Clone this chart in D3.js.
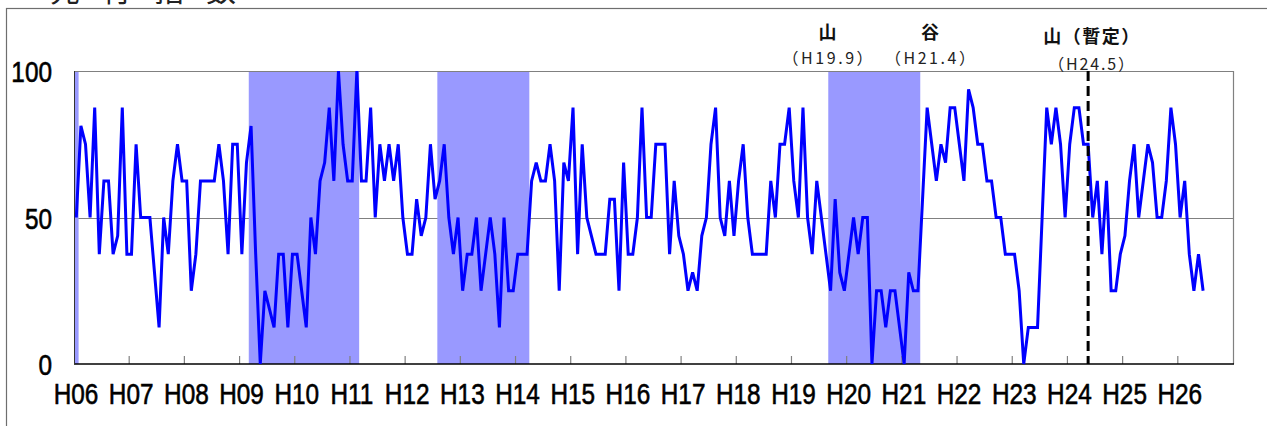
<!DOCTYPE html>
<html>
<head>
<meta charset="utf-8">
<script src="https://cdn.jsdelivr.net/npm/d3@7"></script>
<style>
  body { margin: 0; background: #fff; }
  svg { display: block; }
</style>
</head>
<body>
<script>
// fiscal years shown on the axis (heisei)
const years = ['H06', 'H07', 'H08', 'H09', 'H10', 'H11', 'H12', 'H13', 'H14', 'H15', 'H16',
  'H17', 'H18', 'H19', 'H20', 'H21', 'H22', 'H23', 'H24', 'H25', 'H26'];
const months = [1, 2, 3, 4, 5, 6, 7, 8, 9, 10, 11, 12];

// monthly index values, H06.1 .. H26.6
const diValues = [
  50, 81.25, 75, 50, 87.5, 37.5, 62.5, 62.5, 37.5, 43.75, 87.5, 37.5,
  37.5, 75, 50, 50, 50, 31.25, 12.5, 50, 37.5, 62.5, 75, 62.5,
  62.5, 25, 37.5, 62.5, 62.5, 62.5, 62.5, 75, 62.5, 37.5, 75, 75,
  37.5, 68.75, 81.25, 37.5, 0, 25, 18.75, 12.5, 37.5, 37.5, 12.5, 37.5,
  37.5, 25, 12.5, 50, 37.5, 62.5, 68.75, 87.5, 62.5, 100, 75, 62.5,
  62.5, 100, 62.5, 62.5, 87.5, 50, 75, 62.5, 75, 62.5, 75, 50,
  37.5, 37.5, 56.25, 43.75, 50, 75, 56.25, 62.5, 75, 50, 37.5, 50,
  25, 37.5, 37.5, 50, 25, 37.5, 50, 37.5, 12.5, 50, 25, 25,
  37.5, 37.5, 37.5, 62.5, 68.75, 62.5, 62.5, 75, 62.5, 25, 68.75, 62.5,
  87.5, 37.5, 75, 50, 43.75, 37.5, 37.5, 37.5, 56.25, 56.25, 25, 68.75,
  37.5, 37.5, 50, 87.5, 50, 50, 75, 75, 75, 37.5, 62.5, 43.75,
  37.5, 25, 31.25, 25, 43.75, 50, 75, 87.5, 50, 43.75, 62.5, 43.75,
  62.5, 75, 50, 37.5, 37.5, 37.5, 37.5, 62.5, 50, 75, 75, 87.5,
  62.5, 50, 87.5, 50, 37.5, 62.5, 50, 37.5, 25, 56.25, 31.25, 25,
  37.5, 50, 37.5, 50, 50, 0, 25, 25, 12.5, 25, 25, 12.5,
  0, 31.25, 25, 25, 56.25, 87.5, 75, 62.5, 75, 68.75, 87.5, 87.5,
  75, 62.5, 93.75, 87.5, 75, 75, 62.5, 62.5, 50, 50, 37.5, 37.5,
  37.5, 25, 0, 12.5, 12.5, 12.5, 50, 87.5, 75, 87.5, 75, 50,
  75, 87.5, 87.5, 75, 75, 50, 62.5, 37.5, 62.5, 25, 25, 37.5,
  43.75, 62.5, 75, 50, 62.5, 75, 68.75, 50, 50, 62.5, 87.5, 75,
  50, 62.5, 37.5, 25, 37.5, 25
];

// contraction phases (first month, last month)
const shadePeriods = [['H06.1', 'H06.1'], ['H09.3', 'H11.2'], ['H12.8', 'H14.3'], ['H19.9', 'H21.4']];

const yTicks = [0, 50, 100];
const peakLabel = '山', troughLabel = '谷', provisionalLabel = '山（暫定）';
const peakDate = 'H19.9', troughDate = 'H21.4', provisionalDate = 'H24.5';
const titleText = '先行指数';

const W = 1267, H = 426;
const margin = { top: 71, right: 34, bottom: 62, left: 74 };

const categories = [];
years.forEach(y => months.forEach(m => categories.push(y + '.' + m)));

const svg = d3.select('body').append('svg')
  .attr('width', W)
  .attr('height', H);

const x = d3.scaleBand(categories, [margin.left, W - margin.right]).padding(0);
const y = d3.scaleLinear([0, 100], [H - margin.bottom, margin.top]);
const bw = x.bandwidth();
const cx = c => x(c) + bw / 2;

// no narrow font installed, so squeeze Liberation Sans instead
const numFont = "'Liberation Sans', Arial, sans-serif";
const squeeze = 0.84;
const jpFont = "'Noto Sans CJK JP', 'Noto Sans', sans-serif";

// outer frame
svg.append('rect')
  .attr('x', 6.5).attr('y', 8.5)
  .attr('width', W + 20).attr('height', H + 20)
  .attr('fill', 'none')
  .attr('stroke', '#6e6e6e')
  .attr('stroke-width', 1.2);

// title, cut by the top edge
svg.append('text')
  .attr('x', 50).attr('y', 1)
  .attr('font-family', jpFont)
  .attr('font-size', 30)
  .attr('letter-spacing', 22)
  .attr('fill', '#222')
  .text(titleText);

// grid line at 50
svg.append('line')
  .attr('x1', margin.left).attr('x2', W - margin.right)
  .attr('y1', Math.round(y(50)) + 0.5).attr('y2', Math.round(y(50)) + 0.5)
  .attr('stroke', '#808080').attr('stroke-width', 1);

// shaded periods
svg.append('g').selectAll('rect')
  .data(shadePeriods)
  .join('rect')
  .attr('x', d => x(d[0]))
  .attr('width', d => x(d[1]) + bw - x(d[0]))
  .attr('y', y(100))
  .attr('height', y(0) - y(100))
  .attr('fill', '#9999ff');

// plot border (top/right)
svg.append('path')
  .attr('d', `M${margin.left},${y(100) + 0.5}H${W - margin.right + 0.5}V${y(0)}`)
  .attr('fill', 'none')
  .attr('stroke', '#808080').attr('stroke-width', 1.2);

// x axis: ticks at year boundaries, pointing inward
const yearStarts = years.map(yr => yr + '.1');
const xAxis = d3.axisBottom(x)
  .tickValues(yearStarts.slice(1))
  .tickSize(-8)
  .tickFormat('')
  .tickSizeOuter(0)
  .offset(0);
const gx = svg.append('g')
  .attr('transform', `translate(${-bw / 2},${y(0)})`)
  .call(xAxis);
gx.select('.domain').remove();
gx.selectAll('.tick line').attr('stroke', '#808080').attr('stroke-width', 1.2);

svg.append('line')
  .attr('x1', margin.left).attr('x2', W - margin.right + 1)
  .attr('y1', y(0)).attr('y2', y(0))
  .attr('stroke', '#000').attr('stroke-width', 1.6);
svg.append('line')
  .attr('x1', margin.left + 0.5).attr('x2', margin.left + 0.5)
  .attr('y1', y(100)).attr('y2', y(0))
  .attr('stroke', '#333').attr('stroke-width', 1);

// year labels
svg.append('g').selectAll('text')
  .data(years)
  .join('text')
  .attr('transform', d => `translate(${x(d + '.1') + 2},404) scale(${squeeze},1)`)
  .attr('text-anchor', 'middle')
  .attr('font-family', numFont)
  .attr('font-size', 29)
  .attr('fill', '#000')
  .attr('stroke', '#000')
  .attr('stroke-width', 0.6)
  .text(d => d);

// y labels
svg.append('g').selectAll('text')
  .data(yTicks)
  .join('text')
  .attr('transform', d => `translate(52,${y(d) + 11}) scale(0.84,1)`)
  .attr('text-anchor', 'end')
  .attr('font-family', numFont)
  .attr('font-size', 29)
  .attr('fill', '#000')
  .attr('stroke', '#000')
  .attr('stroke-width', 0.6)
  .text(d => d);

// the index line
const line = d3.line()
  .x((d, i) => cx(categories[i]))
  .y(d => y(d));
svg.append('path')
  .datum(diValues)
  .attr('d', line)
  .attr('fill', 'none')
  .attr('stroke', '#0000ff')
  .attr('stroke-width', 3)
  .attr('stroke-linejoin', 'miter')
  .attr('stroke-miterlimit', 3);

// provisional peak marker
svg.append('line')
  .attr('x1', cx(provisionalDate)).attr('x2', cx(provisionalDate))
  .attr('y1', y(100)).attr('y2', y(0))
  .attr('stroke', '#000')
  .attr('stroke-width', 3)
  .attr('stroke-dasharray', '10,5');

// turning point notes
function note(label, date, px, py1, py2, w1, w2) {
  const t1 = svg.append('text')
    .attr('x', px).attr('y', py1)
    .attr('text-anchor', 'middle')
    .attr('font-family', jpFont)
    .attr('font-size', 18)
    .attr('font-weight', 'bold')
    .attr('fill', '#111')
    .text(label);
  if (w1) t1.attr('textLength', w1).attr('lengthAdjust', 'spacing');
  svg.append('text')
    .attr('x', px).attr('y', py2)
    .attr('text-anchor', 'middle')
    .attr('font-family', jpFont)
    .attr('font-size', 16)
    .attr('fill', '#222')
    .attr('textLength', w2)
    .attr('lengthAdjust', 'spacing')
    .text('（' + date + '）');
}
note(peakLabel, peakDate, cx(peakDate) - 3, 39, 64, null, 90);
note(troughLabel, troughDate, cx(troughDate) + 12, 39, 64, null, 90);
note(provisionalLabel, provisionalDate, cx(provisionalDate) + 3, 43, 70, 96, 86);
</script>
</body>
</html>
